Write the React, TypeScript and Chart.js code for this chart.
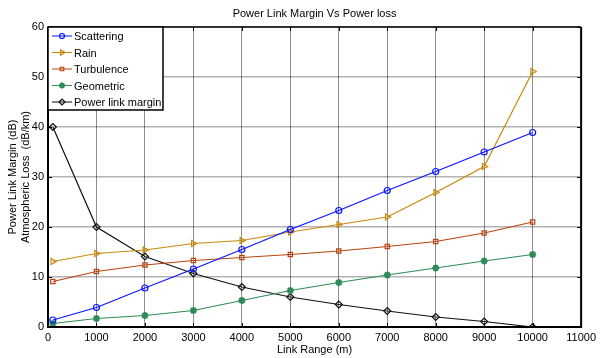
import React, { useEffect, useRef } from "react";
import { Chart, registerables } from "chart.js";
import { drawPoint } from "chart.js/helpers";

Chart.register(...registerables);

const linkRange = [100, 1000, 2000, 3000, 4000, 5000, 6000, 7000, 8000, 9000, 10000];
const scattering = [1.4, 3.9, 7.8, 11.6, 15.5, 19.5, 23.3, 27.3, 31.1, 35.0, 38.9];
const rain = [13.1, 14.7, 15.4, 16.7, 17.3, 19.0, 20.5, 22.0, 26.9, 32.1, 51.1];
const turbulence = [9.1, 11.1, 12.4, 13.3, 13.9, 14.5, 15.2, 16.1, 17.1, 18.8, 21.0];
const geometric = [0.7, 1.7, 2.3, 3.3, 5.3, 7.3, 8.9, 10.4, 11.8, 13.2, 14.5];
const powerLinkMargin = [40, 20, 14.1, 10.7, 8.0, 6.0, 4.5, 3.2, 2.0, 1.1, 0];

const seriesNames = ["Scattering", "Rain", "Turbulence", "Geometric", "Power link margin"];
const titleText = "Power Link Margin Vs Power loss";
const xTitle = "Link Range (m)";
const yTitle = ["Power Link Margin (dB)", "Atmospheric Loss  (dB/km)"];

const FONT = "'Liberation Sans', Arial, Helvetica, sans-serif";
const FS = 11;

const toXY = (ys: number[]) => ys.map((y, i) => ({ x: linkRange[i], y }));

const framePlugin = {
  id: "frame",
  afterDatasetsDraw(chart: any) {
    const { ctx, chartArea } = chart;
    const { left, right, top, bottom } = chartArea;
    const xs = chart.scales.x;
    const ys = chart.scales.y;
    ctx.save();
    ctx.strokeStyle = "#000";
    ctx.lineWidth = 1;
    const tl = 4;
    ctx.beginPath();
    xs.ticks.forEach((t: any) => {
      const px = Math.round(xs.getPixelForValue(t.value)) + 0.5;
      ctx.moveTo(px, bottom);
      ctx.lineTo(px, bottom - tl);
      ctx.moveTo(px, top);
      ctx.lineTo(px, top + tl);
    });
    ys.ticks.forEach((t: any) => {
      const py = Math.round(ys.getPixelForValue(t.value)) + 0.5;
      ctx.moveTo(left, py);
      ctx.lineTo(left + tl, py);
      ctx.moveTo(right, py);
      ctx.lineTo(right - tl, py);
    });
    ctx.stroke();
    ctx.lineWidth = 1.5;
    ctx.beginPath();
    ctx.moveTo(left, top);
    ctx.lineTo(right, top);
    ctx.stroke();
    ctx.lineWidth = 2;
    ctx.beginPath();
    ctx.moveTo(left, top);
    ctx.lineTo(left, bottom);
    ctx.lineTo(right, bottom);
    ctx.lineTo(right, top);
    ctx.stroke();
    ctx.restore();
  },
  afterDraw(chart: any) {
    const { ctx, chartArea } = chart;
    const x0 = chartArea.left;
    const y0 = chartArea.top;
    const w = 115;
    const rowH = 16.5;
    const h = 83;
    ctx.save();
    ctx.fillStyle = "#fff";
    ctx.fillRect(x0, y0, w, h);
    ctx.strokeStyle = "#000";
    ctx.lineWidth = 1.5;
    ctx.strokeRect(x0, y0, w, h);
    ctx.font = `${FS}px ${FONT}`;
    ctx.textBaseline = "middle";
    chart.data.datasets.forEach((ds: any, i: number) => {
      const cy = y0 + 9 + i * rowH;
      ctx.strokeStyle = ds.borderColor;
      ctx.lineWidth = 1;
      ctx.beginPath();
      ctx.moveTo(x0 + 4, cy);
      ctx.lineTo(x0 + 24, cy);
      ctx.stroke();
      ctx.fillStyle = ds.pointBackgroundColor;
      ctx.strokeStyle = ds.borderColor;
      ctx.lineWidth = ds.pointBorderWidth;
      drawPoint(ctx, { pointStyle: ds.pointStyle, radius: ds.pointRadius - 0.5, rotation: ds.pointRotation || 0, borderWidth: ds.pointBorderWidth }, x0 + 14, cy);
      ctx.fillStyle = "#000";
      ctx.fillText(ds.label, x0 + 26, cy + 1);
    });
    ctx.restore();
  },
};

export default function App() {
  const ref = useRef<HTMLCanvasElement>(null);
  useEffect(() => {
    if (!ref.current) return;
    const mk = (label: string, ys: number[], color: string, style: string, extra: any = {}) => ({
      label,
      data: toXY(ys),
      borderColor: color,
      backgroundColor: color,
      pointBackgroundColor: "rgba(0,0,0,0)",
      pointBorderColor: color,
      pointStyle: style,
      pointRadius: 3,
      pointBorderWidth: 1.2,
      borderWidth: 1.2,
      tension: 0,
      ...extra,
    });
    const chart = new Chart(ref.current, {
      type: "line",
      data: {
        datasets: [
          mk(seriesNames[0], scattering, "#0a14ff", "circle"),
          mk(seriesNames[1], rain, "#c8880c", "triangle", { pointRotation: 90, pointRadius: 3.5 }),
          mk(seriesNames[2], turbulence, "#b8440f", "rect"),
          mk(seriesNames[3], geometric, "#2e8b57", "star", { pointRadius: 3.5, pointBorderWidth: 2 }),
          mk(seriesNames[4], powerLinkMargin, "#111111", "rectRot", { pointRadius: 3.5 }),
        ],
      },
      options: {
        animation: false,
        responsive: false,
        layout: { padding: { top: 0, right: 13, left: 0, bottom: 0 } },
        plugins: {
          legend: { display: false },
          tooltip: { enabled: false },
          title: {
            display: true,
            text: titleText,
            fullSize: false,
            color: "#000",
            font: { family: FONT, size: FS, weight: "normal", lineHeight: 1.2 },
            padding: { top: 7, bottom: 6.8 },
          },
        },
        scales: {
          x: {
            type: "linear",
            min: 0,
            max: 11000,
            afterFit: (s: any) => { s.height = 31; },
            ticks: { stepSize: 1000, color: "#000", padding: 4, maxRotation: 0, autoSkip: false, font: { family: FONT, size: FS }, callback: (v: any) => String(v) },
            grid: { color: "rgba(0,0,0,0.45)", drawTicks: false },
            border: { display: false },
            title: { display: true, text: xTitle, color: "#000", font: { family: FONT, size: FS, lineHeight: 1.2 }, padding: { top: 0, bottom: 1.5 } },
          },
          y: {
            min: 0,
            max: 60,
            afterFit: (s: any) => { s.width = 48; },
            ticks: { stepSize: 10, color: "#000", padding: 4, font: { family: FONT, size: FS } },
            grid: { color: "rgba(0,0,0,0.3)", lineWidth: 1.5, drawTicks: false },
            border: { display: false },
            title: { display: true, text: yTitle, color: "#000", font: { family: FONT, size: FS, lineHeight: 1.23 }, padding: { top: 5.75, bottom: 0 } },
          },
        },
      },
      plugins: [framePlugin],
    } as any);
    return () => chart.destroy();
  }, []);
  return (
    <div style={{ position: "absolute", left: 0, top: 0, width: 600, height: 358, background: "#fff" }}>
      <canvas ref={ref} width={600} height={358} style={{ display: "block" }} />
    </div>
  );
}
